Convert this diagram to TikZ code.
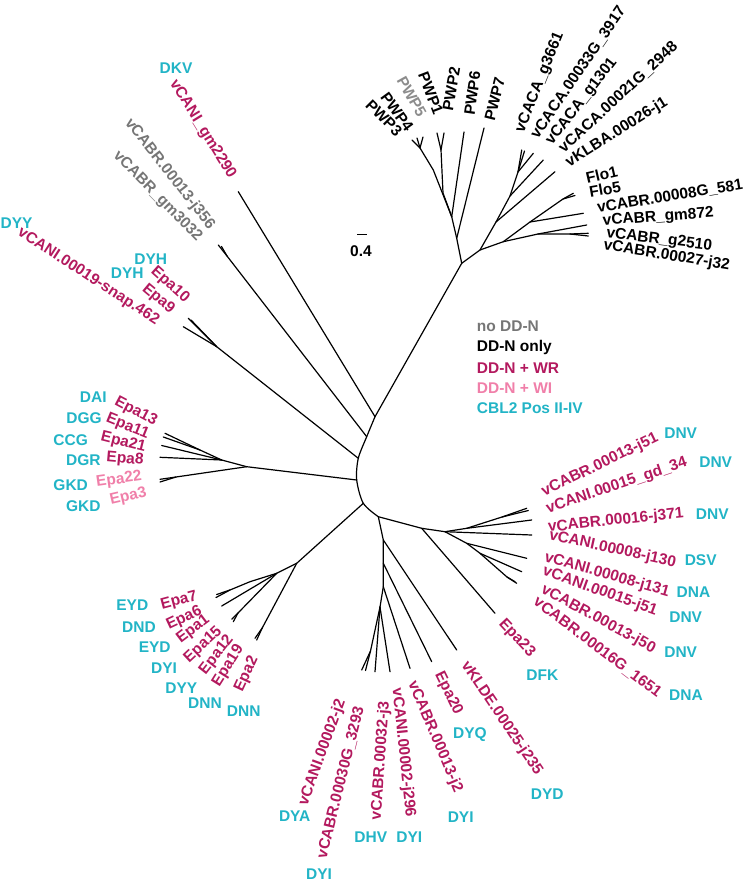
\documentclass[tikz,border=0pt]{standalone}
\usepackage{fontspec}
\setmainfont{Liberation Sans}
\definecolor{cyanc}{HTML}{22B4C6}
\definecolor{magc}{HTML}{B3195E}
\definecolor{pinkc}{HTML}{F07FA9}
\definecolor{grayc}{HTML}{767676}
\definecolor{lgrayc}{HTML}{8C8C8C}
\newcommand\labfont{\fontsize{15.5}{18}\selectfont\bfseries}
\begin{document}
\begin{tikzpicture}[x=1pt,y=-1pt,
  tree/.style={line width=1.2pt, line cap=round, line join=round},
  lab/.style={font=\labfont, inner sep=0pt, anchor=center},
  cy/.style={lab, text=cyanc}, mg/.style={lab, text=magc}, pk/.style={lab, text=pinkc},
  gr/.style={lab, text=grayc}, lg/.style={lab, text=lgrayc}, bk/.style={lab, text=black}]
\useasboundingbox (0,0) rectangle (745,882);
% ---------------- backbone ----------------
\coordinate (N1) at (375,416.7);
\coordinate (N2) at (366.7,436.7);
\coordinate (N3) at (358.3,458.3);
\coordinate (N4) at (356.7,480);
\coordinate (N5) at (363.3,503.3);
\coordinate (N6) at (378.3,516.7);
\draw[tree] plot[smooth] coordinates {(N1) (N2) (N3) (N4) (N5) (N6)};
% ---------------- top clade ----------------
\coordinate (T0) at (461.7,263.3);
\coordinate (P0) at (456.7,238.3);
\coordinate (Q) at (451.7,216.7);
\coordinate (R) at (443,193);
\coordinate (R2) at (441,150);
\coordinate (S) at (433.3,170);
\coordinate (S2) at (420,148);
\coordinate (tP7) at (484,128);
\coordinate (tP6) at (464,132);
\coordinate (tP1) at (437,133);
\coordinate (tP2) at (444,133);
\coordinate (tP3) at (412,140);
\coordinate (tP4) at (417,138);
\coordinate (tP5) at (423,137);
\draw[tree] (N1) -- (T0) -- (P0) -- (Q);
\draw[tree] (P0) -- (tP7);
\draw[tree] (Q) -- (tP6);
\draw[tree] (Q) -- (R) -- (R2) -- (tP1);
\draw[tree] (R2) -- (tP2);
\draw[tree] (Q) -- (S) -- (S2) -- (tP3);
\draw[tree] (S2) -- (tP4);
\draw[tree] (S2) -- (tP5);
\coordinate (F0) at (480,250);
\coordinate (H1) at (496,222);
\coordinate (H3) at (510,196);
\coordinate (H4) at (518,172);
\coordinate (H2) at (503.3,241.7);
\coordinate (H5) at (530,222);
\coordinate (H7) at (563,199);
\coordinate (H6) at (538,234);
\coordinate (H8) at (570,234);
\coordinate (tg3661) at (521.7,150);
\coordinate (tg3917) at (524.5,151);
\coordinate (tg1301) at (533.3,153.3);
\coordinate (tg2948) at (543.3,160);
\coordinate (tklba) at (555,171.7);
\coordinate (tflo1) at (573.3,193.3);
\coordinate (tflo5) at (575,195.5);
\coordinate (t581) at (583.3,213.3);
\coordinate (tgm872) at (586.7,225);
\coordinate (tg2510) at (588.3,233.3);
\coordinate (tj32) at (588.3,236);
\draw[tree] (T0) -- (F0) -- (H1) -- (H3) -- (H4) -- (tg3661);
\draw[tree] (H4) -- (tg3917);
\draw[tree] (H4) -- (tg1301);
\draw[tree] (H3) -- (tg2948);
\draw[tree] (H1) -- (tklba);
\draw[tree] (F0) -- (H2) -- (H5) -- (H7) -- (tflo1);
\draw[tree] (H7) -- (tflo5);
\draw[tree] (H5) -- (t581);
\draw[tree] (H2) -- (H6) -- (tgm872);
\draw[tree] (H6) -- (H8) -- (tg2510);
\draw[tree] (H8) -- (tj32);
% ---------------- upper left ----------------
\coordinate (tgm2290) at (238.3,191.7);
\coordinate (V0) at (227,256);
\coordinate (tj356) at (218.3,245);
\coordinate (tgm3032) at (221.5,246.5);
\draw[tree] (N1) -- (tgm2290);
\draw[tree] (N2) -- (V0) -- (tj356);
\draw[tree] (V0) -- (tgm3032);
\coordinate (E0) at (216.7,346.7);
\coordinate (tepa10) at (188.3,318.3);
\coordinate (tepa9) at (191,320);
\coordinate (tsnap) at (183.3,326.7);
\draw[tree] (N3) -- (E0) -- (tepa10);
\draw[tree] (E0) -- (tepa9);
\draw[tree] (E0) -- (tsnap);
% ---------------- Epa13 clade ----------------
\coordinate (C0) at (246.7,466.7);
\coordinate (C1) at (221.7,460);
\coordinate (C2) at (200,450);
\coordinate (C3) at (176,477);
\coordinate (tepa13) at (165,433.3);
\coordinate (tepa11) at (163.3,437);
\coordinate (tepa21) at (161.7,445.5);
\coordinate (tepa8) at (160,457.3);
\coordinate (tepa22) at (160,479.3);
\coordinate (tepa3) at (160,482);
\draw[tree] (N4) -- (C0) -- (C1) -- (C2) -- (tepa13);
\draw[tree] (C2) -- (tepa11);
\draw[tree] (C1) -- (tepa21);
\draw[tree] (C1) -- (tepa8);
\draw[tree] (C0) -- (C3) -- (tepa22);
\draw[tree] (C3) -- (tepa3);
% ---------------- Epa7 clade ----------------
\coordinate (D0) at (296.7,563.3);
\coordinate (D1) at (276.7,573.3);
\coordinate (D2) at (250,581.7);
\coordinate (D3) at (230,590);
\coordinate (D4) at (238,613);
\coordinate (D5) at (262.2,628);
\coordinate (tepa7) at (216.7,594.5);
\coordinate (tepa6) at (216,597.5);
\coordinate (tepa1) at (221.7,606);
\coordinate (tepa15) at (231.7,619.3);
\coordinate (tepa12) at (233.3,621.7);
\coordinate (tepa19) at (255,638.3);
\coordinate (tepa2) at (256.7,640);
\draw[tree] (N5) -- (D0) -- (D1) -- (D2) -- (D3) -- (tepa7);
\draw[tree] (D3) -- (tepa6);
\draw[tree] (D1) -- (tepa1);
\draw[tree] (D1) -- (D4) -- (tepa15);
\draw[tree] (D4) -- (tepa12);
\draw[tree] (D0) -- (D5) -- (tepa19);
\draw[tree] (D5) -- (tepa2);
% ---------------- bottom clade ----------------
\coordinate (B0) at (383.3,540);
\coordinate (B1) at (383.3,563.3);
\coordinate (B2) at (383.3,586.7);
\coordinate (B3) at (380,607);
\coordinate (B6) at (370.5,651);
\coordinate (tklde) at (456.7,650);
\coordinate (tepa20) at (431.7,661.7);
\coordinate (tj2b) at (410,668.3);
\coordinate (tj296) at (390,671.7);
\coordinate (tj3) at (375,671.7);
\coordinate (tj2a) at (361.7,670);
\coordinate (t3293) at (365.5,670.5);
\draw[tree] (N6) -- (B0) -- (B1) -- (B2) -- (B3);
\draw[tree] (B0) -- (tklde);
\draw[tree] (B1) -- (tepa20);
\draw[tree] (B2) -- (tj2b);
\draw[tree] (B3) -- (tj296);
\draw[tree] (B3) -- (tj3);
\draw[tree] (B3) -- (B6) -- (tj2a);
\draw[tree] (B6) -- (t3293);
% ---------------- right clade ----------------
\coordinate (G0) at (421.7,528.3);
\coordinate (G1) at (445,531.7);
\coordinate (G2) at (466.7,528.3);
\coordinate (G2a) at (502,517);
\coordinate (G3) at (466.7,543.3);
\coordinate (G4) at (480,553.3);
\coordinate (G5) at (507,577);
\coordinate (tepa23) at (495,613.3);
\coordinate (tj51) at (526.7,508.3);
\coordinate (tgd34) at (528.3,510.5);
\coordinate (tj371) at (531.7,520);
\coordinate (tj130) at (531.7,535);
\coordinate (tj131) at (526.7,558.3);
\coordinate (tj51b) at (521.7,571.7);
\coordinate (tj50) at (515,581.7);
\coordinate (t1651) at (516.7,583.3);
\draw[tree] (N6) -- (G0) -- (G1) -- (G2) -- (G2a) -- (tj51);
\draw[tree] (G0) -- (tepa23);
\draw[tree] (G2a) -- (tgd34);
\draw[tree] (G2) -- (tj371);
\draw[tree] (G1) -- (tj130);
\draw[tree] (G1) -- (G3) -- (tj131);
\draw[tree] (G3) -- (G4) -- (tj51b);
\draw[tree] (G4) -- (G5) -- (tj50);
\draw[tree] (G5) -- (t1651);
% ---------------- scale bar ----------------
\coordinate (sb1) at (357,235);
\coordinate (sb2) at (367,235);
\draw[line width=1pt] (sb1) -- (sb2);
\node[bk] (lscale) at (361,251) {0.4};
% ---------------- legend ----------------
\node[gr, anchor=west] (leg1) at (476.7,326.7) {no DD-N};
\node[bk, anchor=west] (leg2) at (476.7,347.3) {DD-N only};
\node[mg, anchor=west] (leg3) at (476.7,368.3) {DD-N + WR};
\node[pk, anchor=west] (leg4) at (476.7,388.3) {DD-N + WI};
\node[cy, anchor=west] (leg5) at (476.7,408.3) {CBL2 Pos II-IV};
% ---------------- labels: top ----------------
\node[bk, rotate=-45] (lP3) at (384,118) {PWP3};
\node[bk, rotate=-54] (lP4) at (397,111.7) {PWP4};
\node[lg, rotate=-61] (lP5) at (411.7,96.7) {PWP5};
\node[bk, rotate=-69] (lP1) at (430.7,93.3) {PWP1};
\node[bk, rotate=80] (lP2) at (451.3,89) {PWP2};
\node[bk, rotate=82] (lP6) at (472.3,93.3) {PWP6};
\node[bk, rotate=76] (lP7) at (494.7,99) {PWP7};
\node[bk, rotate=67.9] (lg3661) at (540,82.5) {vCACA\_g3661};
\node[bk, rotate=55.6] (lg3917) at (578.3,72.5) {vCACA.00033G\_3917};
\node[bk, rotate=52] (lg1301) at (581.7,101.7) {vCACA\_g1301};
\node[bk, rotate=42.9] (lg2948) at (618.3,97.5) {vCACA.00021G\_2948};
\node[bk, rotate=32.2] (lklba) at (616.7,132.5) {vKLBA.00026-j1};
\node[bk, rotate=13] (lflo1) at (601.7,175) {Flo1};
\node[bk, rotate=10] (lflo5) at (605,189.2) {Flo5};
\node[bk, rotate=9.2] (l581) at (670,196.7) {vCABR.00008G\_581};
\node[bk, rotate=4.3] (lgm872) at (658.3,217.5) {vCABR\_gm872};
\node[bk, rotate=-7] (lg2510) at (659.2,240) {vCABR\_g2510};
\node[bk, rotate=-9.2] (lj32) at (666.7,255.8) {vCABR.00027-j32};
% ---------------- labels: upper left ----------------
\node[cy] (cDKV) at (176,68.5) {DKV};
\node[mg, rotate=-58.4] (lgm2290) at (202.5,129.2) {vCANI\_gm2290};
\node[gr, rotate=-52] (lj356) at (169.7,174.2) {vCABR.00013-j356};
\node[gr, rotate=-45.6] (lgm3032) at (157.5,196.7) {vCABR\_gm3032};
\node[cy] (cDYY1) at (16.5,223) {DYY};
\node[mg, rotate=-33] (lsnap) at (88.3,276.7) {vCANI.00019-snap.462};
\node[cy] (cDYH1) at (150.7,259) {DYH};
\node[cy] (cDYH2) at (127.3,273.3) {DYH};
\node[mg, rotate=-42] (lepa10) at (170,285) {Epa10};
\node[mg, rotate=-40] (lepa9) at (158.3,299.2) {Epa9};
% ---------------- labels: Epa13 clade ----------------
\node[cy] (cDAI) at (93.3,396.7) {DAI};
\node[cy] (cDGG) at (84,418.3) {DGG};
\node[cy] (cCCG) at (70.7,440) {CCG};
\node[cy] (cDGR) at (83.3,460) {DGR};
\node[cy] (cGKD1) at (70.7,485) {GKD};
\node[cy] (cGKD2) at (83.3,506) {GKD};
\node[mg, rotate=-28] (lepa13) at (135.8,411.7) {Epa13};
\node[mg, rotate=-22] (lepa11) at (127.5,426.7) {Epa11};
\node[mg, rotate=-14] (lepa21) at (123.3,442.7) {Epa21};
\node[mg, rotate=-5] (lepa8) at (125,459.3) {Epa8};
\node[pk, rotate=8] (lepa22) at (119,480) {Epa22};
\node[pk, rotate=13] (lepa3) at (128.3,496.7) {Epa3};
% ---------------- labels: Epa7 clade ----------------
\node[cy] (cEYD1) at (132.3,605) {EYD};
\node[cy] (cDND) at (139,626.7) {DND};
\node[cy] (cEYD2) at (154.7,646.7) {EYD};
\node[cy] (cDYI0) at (164,668.3) {DYI};
\node[cy] (cDYY2) at (181.3,688.3) {DYY};
\node[cy] (cDNN1) at (205,703.3) {DNN};
\node[cy] (cDNN2) at (243.7,711) {DNN};
\node[mg, rotate=15] (lepa7) at (179,601) {Epa7};
\node[mg, rotate=25] (lepa6) at (184.2,618.3) {Epa6};
\node[mg, rotate=37] (lepa1) at (193.3,629.2) {Epa1};
\node[mg, rotate=43] (lepa15) at (203.3,645) {Epa15};
\node[mg, rotate=52] (lepa12) at (216.7,655) {Epa12};
\node[mg, rotate=58] (lepa19) at (228.3,665.8) {Epa19};
\node[mg, rotate=65] (lepa2) at (246.7,674.2) {Epa2};
% ---------------- labels: bottom clade ----------------
\node[mg, rotate=70] (lj2a) at (322.5,752.5) {vCANI.00002-j2};
\node[mg, rotate=76] (l3293) at (340.8,782.5) {vCABR.00030G\_3293};
\node[mg, rotate=86] (lj3) at (380.8,760.8) {vCABR.00032-j3};
\node[mg, rotate=-84] (lj296) at (403.3,752.5) {vCANI.00002-j296};
\node[mg, rotate=-67] (lj2b) at (435,736.7) {vCABR.00013-j2};
\node[mg, rotate=-64] (lepa20) at (448.3,693.3) {Epa20};
\node[mg, rotate=-56] (lklde) at (501.7,718.3) {vKLDE.00025-j235};
\node[mg, rotate=-47] (lepa23) at (516.7,638.3) {Epa23};
\node[cy] (cDYA) at (294.7,815.7) {DYA};
\node[cy] (cDYI1) at (319,874.5) {DYI};
\node[cy] (cDHV) at (370.8,836.7) {DHV};
\node[cy] (cDYI2) at (409.3,837.3) {DYI};
\node[cy] (cDYI3) at (460.7,817.3) {DYI};
\node[cy] (cDYQ) at (470,735) {DYQ};
\node[cy] (cDYD) at (547.3,794) {DYD};
\node[cy] (cDFK) at (542.3,675) {DFK};
% ---------------- labels: right clade ----------------
\node[mg, rotate=25.9] (lj51) at (600,465) {vCABR.00013-j51};
\node[mg, rotate=18.6] (lgd34) at (616.7,485.8) {vCANI.00015\_gd\_34};
\node[mg, rotate=6] (lj371) at (615.8,520.8) {vCABR.00016-j371};
\node[mg, rotate=-12.4] (lj130) at (612.5,549.2) {vCANI.00008-j130};
\node[mg, rotate=-16] (lj131) at (607,575) {vCANI.00008-j131};
\node[mg, rotate=-20] (lj51b) at (600,591.5) {vCANI.00015-j51};
\node[mg, rotate=-28.6] (lj50) at (598.3,619.2) {vCABR.00013-j50};
\node[mg, rotate=-37.2] (l1651) at (597.5,647.5) {vCABR.00016G\_1651};
\node[cy] (cDNV1) at (680.7,433.3) {DNV};
\node[cy] (cDNV2) at (715.7,462.3) {DNV};
\node[cy] (cDNV3) at (712.3,514.5) {DNV};
\node[cy] (cDSV) at (700.7,560) {DSV};
\node[cy] (cDNA1) at (693.5,592.5) {DNA};
\node[cy] (cDNV4) at (685.7,616.7) {DNV};
\node[cy] (cDNV5) at (680.7,651.7) {DNV};
\node[cy] (cDNA2) at (686,695) {DNA};
\end{tikzpicture}
\end{document}
